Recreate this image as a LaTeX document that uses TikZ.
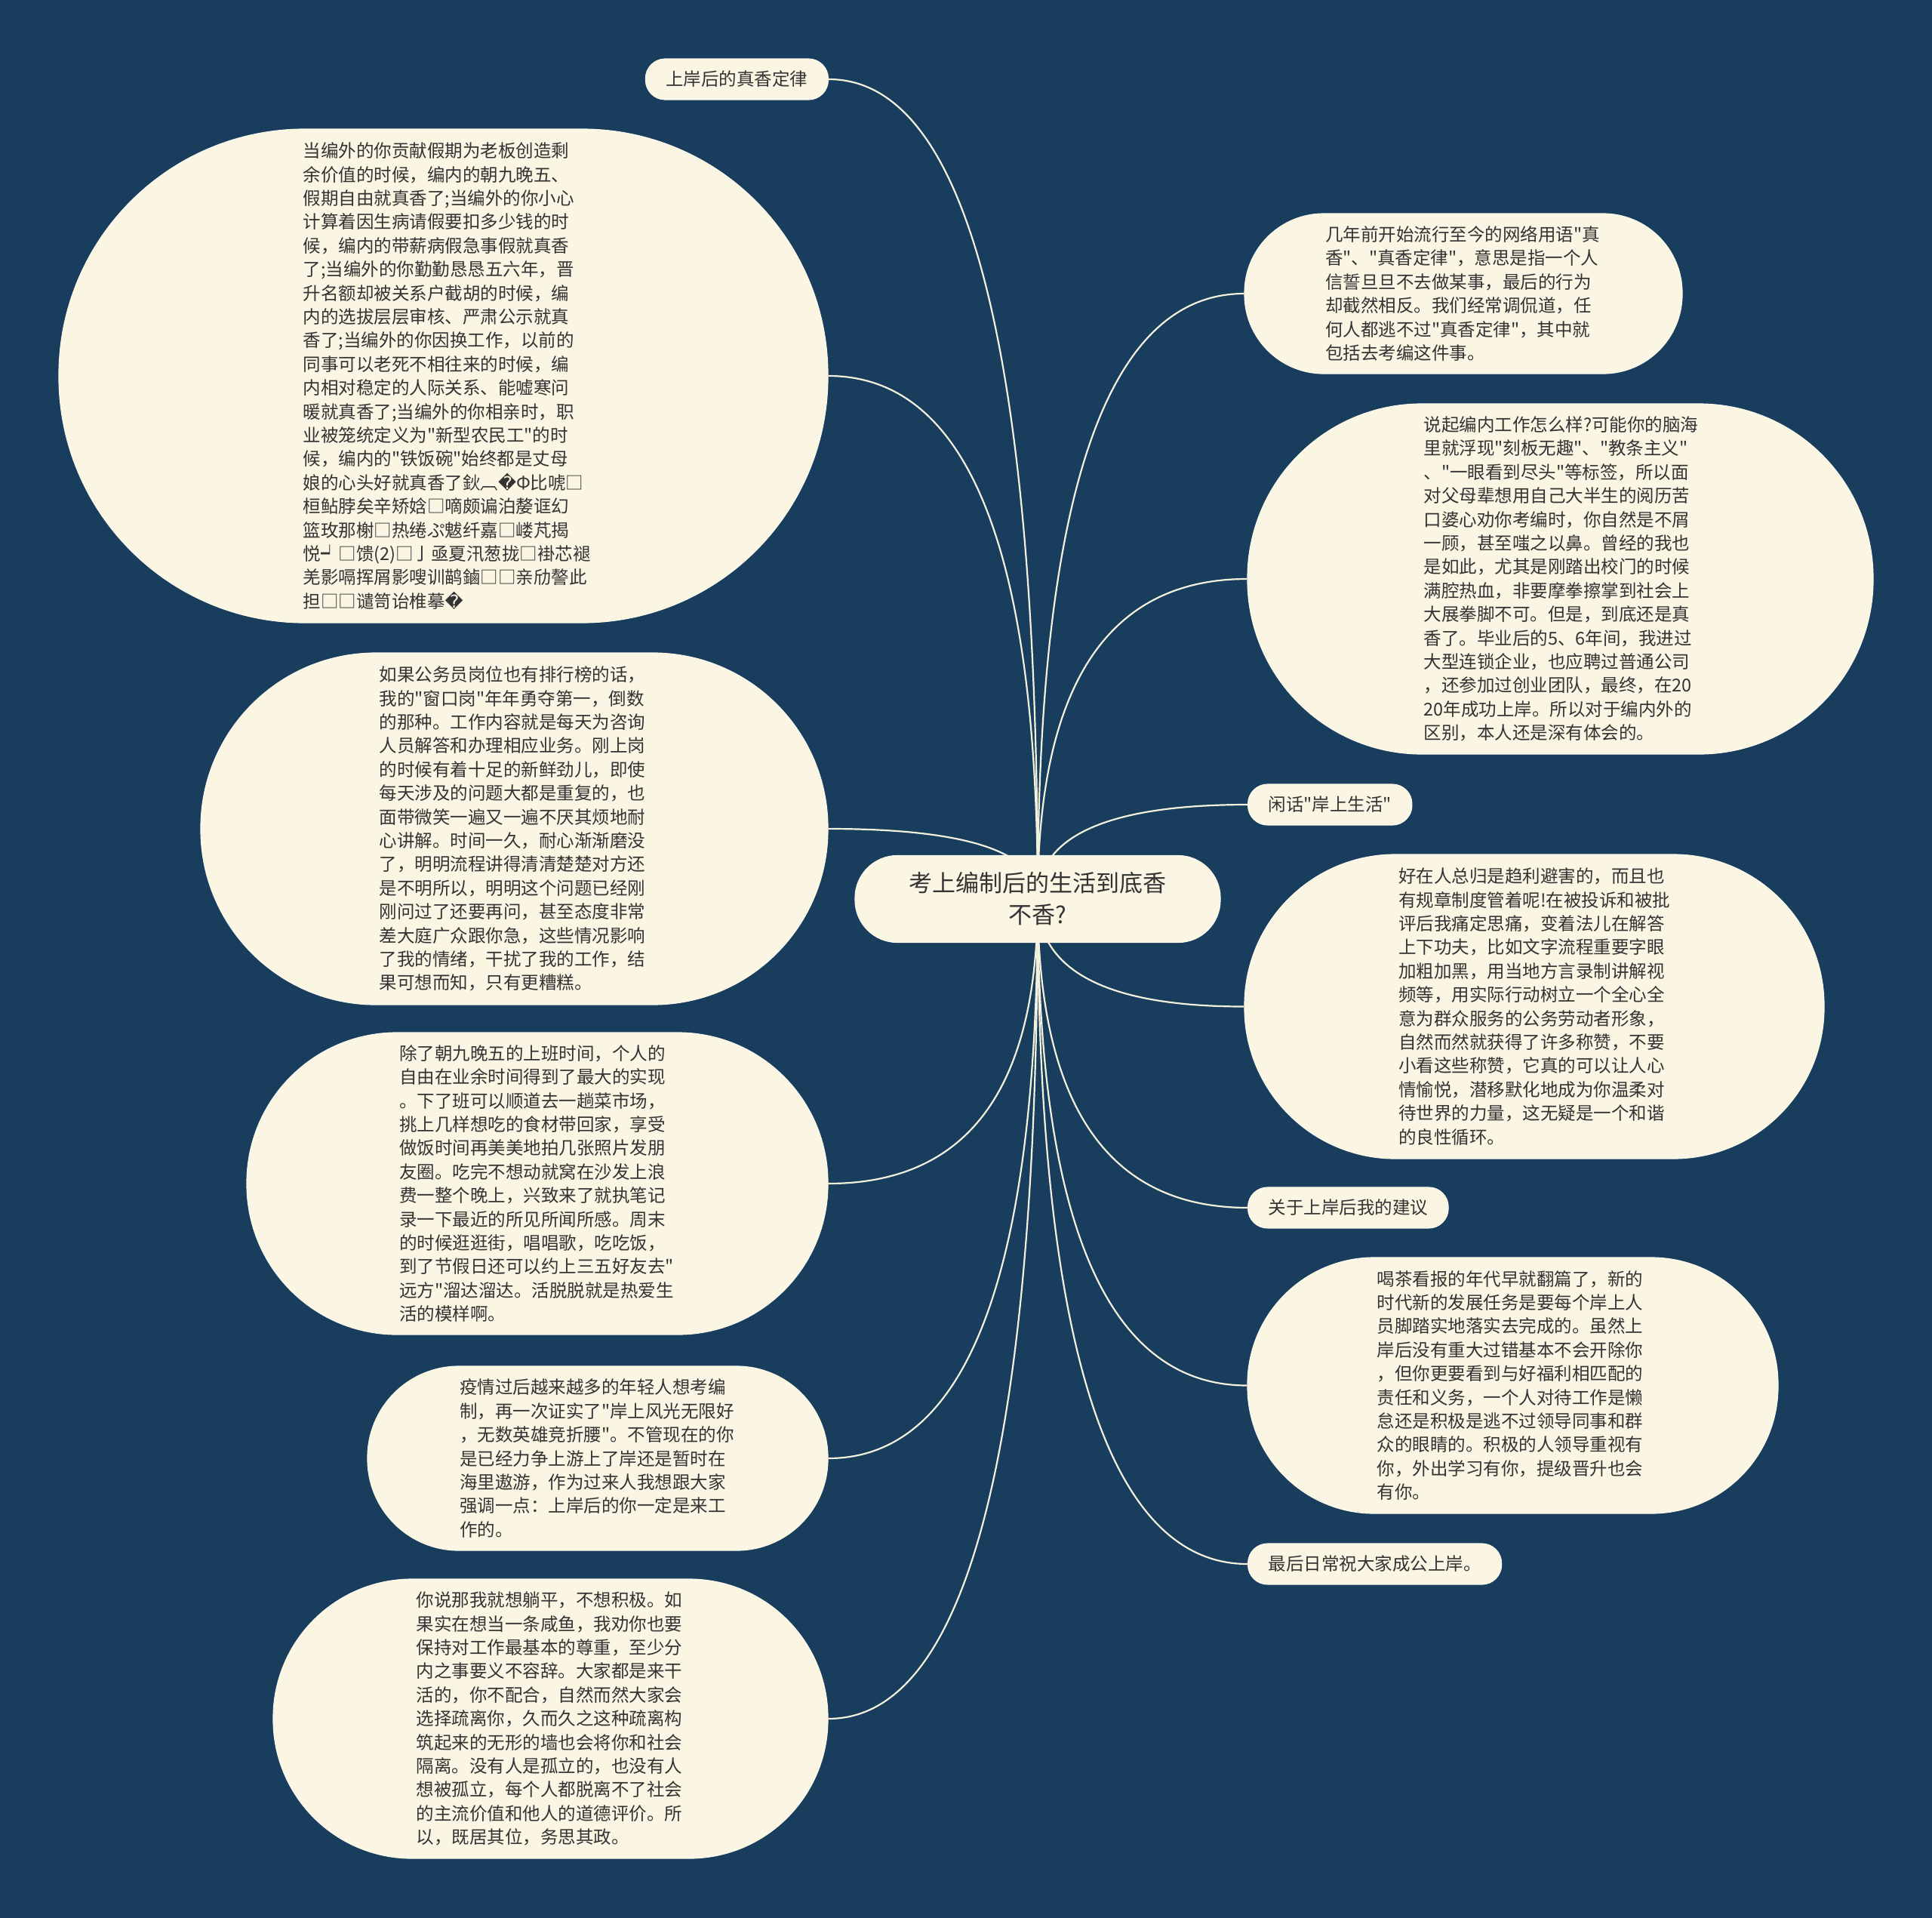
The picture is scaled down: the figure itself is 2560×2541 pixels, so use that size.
\documentclass[tikz,border=0pt]{standalone}
\usepackage{fontspec}
\newfontfamily\cjk{Noto Sans CJK SC}
\newfontfamily\djv{DejaVu Sans}
\usetikzlibrary{calc}
\definecolor{bgc}{HTML}{183D5D}
\definecolor{cream}{HTML}{FAF6E3}
\definecolor{txt}{HTML}{333333}
\definecolor{wirec}{HTML}{F4F0DE}
\newcommand{\rep}{{\djv\symbol{"FFFD}}}
\pgfdeclarelayer{back}
\pgfsetlayers{back,main}
\begin{document}
\begin{tikzpicture}[x=1pt,y=-1pt,
  bub/.style={fill=cream, draw=cream!70!white, line width=1.2pt, inner sep=0pt, text=txt,
    font=\cjk\fontsize{23.5}{31.4}\selectfont, align=left},
  lab/.style={fill=cream, draw=cream!70!white, line width=1.2pt, inner xsep=27pt, inner ysep=0pt,
    minimum height=54pt, rounded corners=26pt, text=txt, font=\cjk\fontsize{23.5}{28}\selectfont},
  wire/.style={draw=wirec, line width=2.2pt}]
\useasboundingbox (0,0) rectangle (2560,2541);

% centre
\node[bub, align=center, minimum width=484, minimum height=115, rounded corners=56,
  font=\cjk\fontsize{31}{42}\selectfont] (c) at (1375,1191) {考上编制后的生活到底香\\不香?};

% left side
\node[lab, anchor=east] (t1) at (1098,105) {上岸后的真香定律};

\node[bub, minimum width=1019, minimum height=654, rounded corners=326, text width=372] (l1) at (587.5,498) {当编外的你贡献假期为老板创造剩\\余价值的时候，编内的朝九晚五、\\假期自由就真香了;当编外的你小心\\计算着因生病请假要扣多少钱的时\\候，编内的带薪病假急事假就真香\\了;当编外的你勤勤恳恳五六年，晋\\升名额却被关系户截胡的时候，编\\内的选拔层层审核、严肃公示就真\\香了;当编外的你因换工作，以前的\\同事可以老死不相往来的时候，编\\内相对稳定的人际关系、能嘘寒问\\暖就真香了;当编外的你相亲时，职\\业被笼统定义为"新型农民工"的时\\候，编内的"铁饭碗"始终都是丈母\\娘的心头好就真香了鈥︹\rep Φ比唬□\\桓鲇脖矣辛矫娢□嘀颇谝泊嫠诓幻\\篮玫那榭□热绻ぷ魃纤嘉□嵝芃揭\\悦┙□馈(2)□亅亟夏汛葱拢□褂芯褪\\羌影嗝挥屑影嗖训鹋鏀□□亲劤謷此\\担□□谴笥诒椎摹\rep};

\node[bub, minimum width=831, minimum height=466, rounded corners=232, text width=358] (l2) at (681.5,1098) {如果公务员岗位也有排行榜的话，\\我的"窗口岗"年年勇夺第一，倒数\\的那种。工作内容就是每天为咨询\\人员解答和办理相应业务。刚上岗\\的时候有着十足的新鲜劲儿，即使\\每天涉及的问题大都是重复的，也\\面带微笑一遍又一遍不厌其烦地耐\\心讲解。时间一久，耐心渐渐磨没\\了，明明流程讲得清清楚楚对方还\\是不明所以，明明这个问题已经刚\\刚问过了还要再问，甚至态度非常\\差大庭广众跟你急，这些情况影响\\了我的情绪，干扰了我的工作，结\\果可想而知，只有更糟糕。};

\node[bub, minimum width=770, minimum height=400, rounded corners=199, text width=366] (l3) at (712,1568) {除了朝九晚五的上班时间，个人的\\自由在业余时间得到了最大的实现\\。下了班可以顺道去一趟菜市场，\\挑上几样想吃的食材带回家，享受\\做饭时间再美美地拍几张照片发朋\\友圈。吃完不想动就窝在沙发上浪\\费一整个晚上，兴致来了就执笔记\\录一下最近的所见所闻所感。周末\\的时候逛逛街，唱唱歌，吃吃饭，\\到了节假日还可以约上三五好友去"\\远方"溜达溜达。活脱脱就是热爱生\\活的模样啊。};

\node[bub, minimum width=610, minimum height=244, rounded corners=121, text width=366] (l4) at (792,1932) {疫情过后越来越多的年轻人想考编\\制，再一次证实了"岸上风光无限好\\，无数英雄竞折腰"。不管现在的你\\是已经力争上游上了岸还是暂时在\\海里遨游，作为过来人我想跟大家\\强调一点：上岸后的你一定是来工\\作的。};

\node[bub, minimum width=735, minimum height=370, rounded corners=184, text width=356] (l5) at (729.5,2277) {你说那我就想躺平，不想积极。如\\果实在想当一条咸鱼，我劝你也要\\保持对工作最基本的尊重，至少分\\内之事要义不容辞。大家都是来干\\活的，你不配合，自然而然大家会\\选择疏离你，久而久之这种疏离构\\筑起来的无形的墙也会将你和社会\\隔离。没有人是孤立的，也没有人\\想被孤立，每个人都脱离不了社会\\的主流价值和他人的道德评价。所\\以，既居其位，务思其政。};

% right side
\node[bub, minimum width=580, minimum height=212, rounded corners=105, text width=366] (r1) at (1939,389) {几年前开始流行至今的网络用语"真\\香"、"真香定律"，意思是指一个人\\信誓旦旦不去做某事，最后的行为\\却截然相反。我们经常调侃道，任\\何人都逃不过"真香定律"，其中就\\包括去考编这件事。};

\node[bub, minimum width=829, minimum height=464, rounded corners=231, text width=362] (r2) at (2067.5,767) {说起编内工作怎么样?可能你的脑海\\里就浮现"刻板无趣"、"教条主义"\\、"一眼看到尽头"等标签，所以面\\对父母辈想用自己大半生的阅历苦\\口婆心劝你考编时，你自然是不屑\\一顾，甚至嗤之以鼻。曾经的我也\\是如此，尤其是刚踏出校门的时候\\满腔热血，非要摩拳擦掌到社会上\\大展拳脚不可。但是，到底还是真\\香了。毕业后的5、6年间，我进过\\大型连锁企业，也应聘过普通公司\\，还参加过创业团队，最终，在20\\20年成功上岸。所以对于编内外的\\区别，本人还是深有体会的。};

\node[lab, anchor=west] (s2) at (1653,1066) {闲话"岸上生活"};

\node[bub, minimum width=768, minimum height=403, rounded corners=200, text width=360] (r3) at (2033,1333.5) {好在人总归是趋利避害的，而且也\\有规章制度管着呢!在被投诉和被批\\评后我痛定思痛，变着法儿在解答\\上下功夫，比如文字流程重要字眼\\加粗加黑，用当地方言录制讲解视\\频等，用实际行动树立一个全心全\\意为群众服务的公务劳动者形象，\\自然而然就获得了许多称赞，不要\\小看这些称赞，它真的可以让人心\\情愉悦，潜移默化地成为你温柔对\\待世界的力量，这无疑是一个和谐\\的良性循环。};

\node[lab, anchor=west] (s3) at (1653,1600) {关于上岸后我的建议};

\node[bub, minimum width=703, minimum height=339, rounded corners=168, text width=360] (r4) at (2004.5,1835.5) {喝茶看报的年代早就翻篇了，新的\\时代新的发展任务是要每个岸上人\\员脚踏实地落实去完成的。虽然上\\岸后没有重大过错基本不会开除你\\，但你更要看到与好福利相匹配的\\责任和义务，一个人对待工作是懒\\怠还是积极是逃不过领导同事和群\\众的眼睛的。积极的人领导重视有\\你，外出学习有你，提级晋升也会\\有你。};

\node[lab, anchor=west] (s4) at (1653,2072) {最后日常祝大家成公上岸。};

\begin{pgfonlayer}{back}
\fill[bgc] (0,0) rectangle (2560,2541);
\foreach \n/\a in {t1/east,l1/east,l2/east,l3/east,l4/east,l5/east,r1/west,r2/west,s2/west,r3/west,s3/west,r4/west,s4/west}{
  \draw[wire] (c.center) .. controls ($(c.center)!0.6667!(c.center|-\n.\a)$) and ($(\n.\a)!0.6667!(c.center|-\n.\a)$) .. (\n.\a);
}
\end{pgfonlayer}
\end{tikzpicture}
\end{document}
